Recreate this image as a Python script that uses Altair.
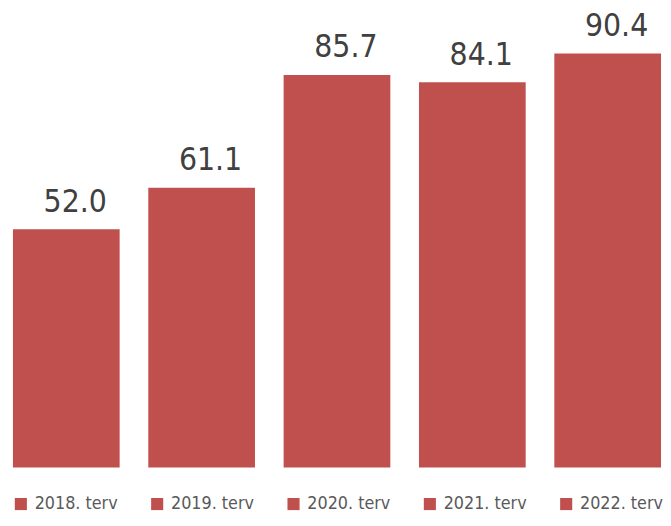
import altair as alt
import pandas as pd

categories = ["2018. terv", "2019. terv", "2020. terv", "2021. terv", "2022. terv"]
values = [52.0, 61.1, 85.7, 84.1, 90.4]
labels = ["52.0", "61.1", "85.7", "84.1", "90.4"]

df = pd.DataFrame({"cat": categories, "val": values, "lab": labels})

FONT = "DejaVu Sans Condensed"
RED = "#C0504D"

x = alt.X("cat:N", sort=categories, axis=None,
          scale=alt.Scale(range=[5, 661], paddingInner=29 / 137, paddingOuter=0))
y = alt.Y("val:Q", axis=None, scale=alt.Scale(domain=[0, 99.66], nice=False, zero=True))

bars = alt.Chart(df).mark_bar(color=RED).encode(
    x=x, y=y,
    color=alt.Color("cat:N", sort=categories,
                    scale=alt.Scale(domain=categories, range=[RED] * 5),
                    legend=alt.Legend(
                        title=None, orient="none", legendX=4, legendY=490,
                        direction="horizontal", columns=5,
                        symbolType="square", symbolSize=150, symbolStrokeWidth=0,
                        symbolOpacity=1,
                        labelFont=FONT, labelFontSize=18, labelColor="#595959",
                        labelOffset=5, columnPadding=30, labelLimit=200,
                    )),
)

text = alt.Chart(df).mark_text(
    font=FONT, fontSize=32, color="#404040", baseline="alphabetic",
    align="center", dx=9, dy=-18,
).encode(x=x, y=y, text="lab:N")

chart = (bars + text).properties(
    width=663, height=462,
    background="white",
    autosize=alt.AutoSizeParams(type="none"),
    padding={"left": 0, "top": 0, "right": 0, "bottom": 48},
).configure_view(strokeWidth=0, stroke="transparent")

chart.save("out.html", embed_options={"renderer": "svg", "actions": False})
